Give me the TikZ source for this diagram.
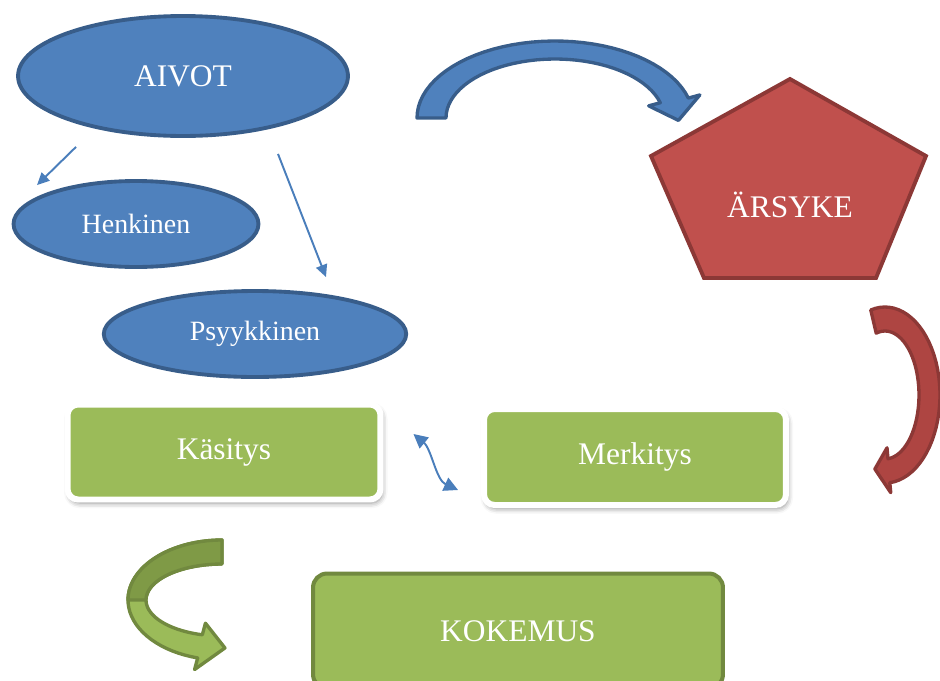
\documentclass[tikz,border=0pt]{standalone}
\usepackage{fontspec}
\setmainfont{Liberation Serif}
\usepackage{xcolor}
\usetikzlibrary{shapes.geometric,arrows.meta,shadows.blur}

\definecolor{blueFill}{HTML}{4F81BD}
\definecolor{blueLine}{HTML}{385D8A}
\definecolor{thinBlue}{HTML}{4A7EBB}
\definecolor{redFill}{HTML}{C0504D}
\definecolor{redLine}{HTML}{8C3836}
\definecolor{redArrow}{HTML}{AE4542}
\definecolor{greenFill}{HTML}{9BBB59}
\definecolor{greenDark}{HTML}{7F9A46}
\definecolor{greenLine}{HTML}{71893F}

\begin{document}
\begin{tikzpicture}[x=0.02cm,y=-0.02cm,
    oval/.style={ellipse, draw=blueLine, fill=blueFill, line width=2.2pt, text=white, inner sep=0pt},
    bigtext/.style={font=\fontsize{17.9}{20}\selectfont},
    smalltext/.style={font=\fontsize{15.9}{18}\selectfont},
    greenbox/.style={rectangle, rounded corners=6pt, fill=greenFill, draw=white, line width=3.4pt, text=white, bigtext,
      blur shadow={shadow xshift=1pt, shadow yshift=-2pt, shadow blur radius=3pt, shadow opacity=45}},
    link/.style={draw=thinBlue, line width=1.1pt, -{Triangle[length=7pt,width=6.5pt]}},
    bentarrow/.style={line width=1.9pt, line join=round}]
  \useasboundingbox (0,0) rectangle (940,680);

  % brain and its two sides
  \node (aivot) [oval, bigtext, minimum width=6.6cm, minimum height=2.4cm] at (183,76) {AIVOT};
  \node (henkinen) [oval, smalltext, minimum width=4.9cm, minimum height=1.72cm] at (136,224) {Henkinen};
  \node (psyykkinen) [oval, smalltext, minimum width=6.05cm, minimum height=1.72cm] at (255,334) {Psyykkinen};

  \draw[link] ([shift={(-107,9)}]aivot.south) -- ([shift={(-99,6)}]henkinen.north);
  \draw[link] ([shift={(95,16)}]aivot.south) -- ([shift={(71,-12)}]psyykkinen.north);

  % stimulus
  \draw[draw=redLine, fill=redFill, line width=2.2pt, line join=miter]
    (790,79) -- (926,156) -- (876,278) -- (704,278) -- (651,156) -- cycle;
  \node (arsyke) [text=white, bigtext] at (790,205) {ÄRSYKE};

  % boxes
  \node (kasitys) [greenbox, minimum width=6.26cm, minimum height=1.9cm] at (224,452) {Käsitys};
  \node (merkitys) [greenbox, minimum width=6.04cm, minimum height=1.92cm] at (635,457) {Merkitys};
  \node (kokemus) [rectangle, rounded corners=8pt, fill=greenFill, draw=greenLine, line width=2.3pt, text=white, bigtext,
    minimum width=8.2cm, minimum height=2.3cm] at (518,631) {KOKEMUS};

  \draw[draw=thinBlue, line width=1.1pt, {Triangle[length=8pt,width=8pt]}-{Triangle[length=8pt,width=8pt]}]
    ([shift={(30,-18)}]kasitys.east) .. controls +(18,15) and +(-22,-10) .. ([shift={(-23,33)}]merkitys.west);

  % bent block arrows
  \draw[bentarrow, draw=blueLine, fill=blueFill]
    plot[domain=180:345, samples=40] ({555+138*cos(\x)}, {118+77*sin(\x)})
    -- ({555+150*cos(345)}, {118+89*sin(345)})
    -- ({555+123.5*cos(362)}, {118+68*sin(362)})
    -- ({555+97*cos(345)}, {118+47*sin(345)})
    -- plot[domain=345:180, samples=40] ({555+109*cos(\x)}, {118+59*sin(\x)}) -- cycle;

  \draw[bentarrow, draw=redLine, fill=redArrow]
    plot[domain=255:445, samples=40] ({885+55*cos(\x)}, {395+88*sin(\x)})
    -- ({885+66*cos(445)}, {395+98*sin(445)})
    -- ({885+45*cos(463)}, {395+76*sin(463)})
    -- ({885+23*cos(445)}, {395+53*sin(445)})
    -- plot[domain=445:255, samples=40] ({885+34*cos(\x)}, {395+64*sin(\x)}) -- cycle;

  \draw[bentarrow, draw=greenLine, fill=greenFill]
    plot[domain=270:105, samples=40] ({222+94*cos(\x)}, {600+60*sin(\x)})
    -- ({222+106*cos(105)}, {600+72*sin(105)})
    -- ({222+85*cos(88)}, {600+48*sin(88)})
    -- ({222+64*cos(105)}, {600+24*sin(105)})
    -- plot[domain=105:270, samples=40] ({222+76*cos(\x)}, {600+36*sin(\x)}) -- cycle;
  \draw[bentarrow, draw=greenLine, fill=greenDark]
    plot[domain=270:180, samples=30] ({222+94*cos(\x)}, {600+60*sin(\x)})
    -- plot[domain=180:270, samples=30] ({222+76*cos(\x)}, {600+36*sin(\x)}) -- cycle;
\end{tikzpicture}
\end{document}
